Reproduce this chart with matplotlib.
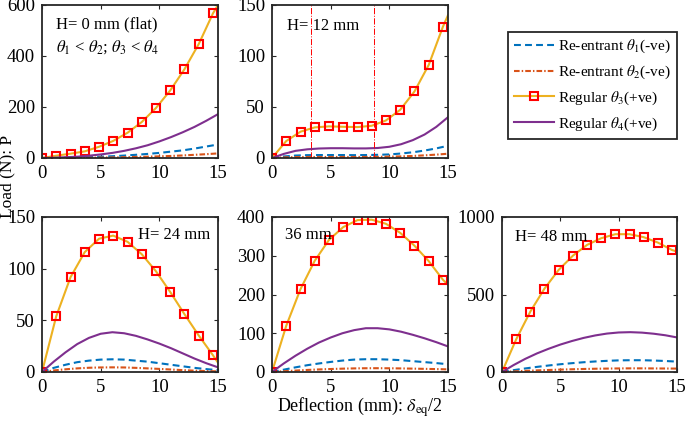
import numpy as np
import matplotlib
matplotlib.use("Agg")
import matplotlib.pyplot as plt

plt.rcParams['font.family'] = ['Liberation Serif', 'DejaVu Serif']
plt.rcParams['mathtext.fontset'] = 'stix'
plt.rcParams['font.size'] = 11

# colours (MATLAB defaults)
C_BLUE = '#0072BD'
C_ORANGE = '#D95319'
C_YELLOW = '#EDB120'
C_PURPLE = '#7E2F8E'

# x positions
x_line = [0, 1, 2, 3, 4, 5, 6, 7, 8, 9, 10, 11, 12, 13, 14, 15]
x_mark = [0, 1.21, 2.43, 3.64, 4.86, 6.07, 7.29, 8.5, 9.71, 10.93, 12.14, 13.36, 14.57]

# H = 0 mm (flat)
h0_reg3 = [0, 9, 17, 26, 44, 67, 99, 141, 196, 265, 348, 447, 567]
h0_reg3_end = 600
h0_reg4 = [0, 1, 3, 5, 9, 14, 20, 28, 38, 50, 65, 82, 101, 122, 146, 172]
h0_re1 = [0, 0.3, 1, 2, 3, 5, 7, 9.5, 12.5, 16, 20, 25, 30, 37, 45, 53]
h0_re2 = [0, 0.1, 0.3, 0.6, 1, 1.6, 2.3, 3.1, 4, 5.2, 6.5, 8, 10, 12.5, 15, 18]

# H = 12 mm
h12_reg3 = [0, 16.6, 25.8, 30, 31, 30.6, 30.3, 31.6, 36.8, 47.3, 65.2, 91.3, 128.8]
h12_reg3_end = 140
h12_reg4 = [0, 4, 7, 8.5, 9.3, 9.6, 9.6, 9.4, 9.4, 9.8, 11, 13.5, 17.5, 23, 30.5, 40]
h12_re1 = [0, 1.5, 2.4, 2.8, 2.9, 2.9, 2.9, 2.8, 2.9, 3.1, 3.5, 4.4, 5.6, 7.3, 9.4, 12]
h12_re2 = [0, 0.6, 0.9, 1, 1, 1, 1, 1, 1, 1.1, 1.3, 1.6, 2, 2.6, 3.3, 4.2]
h12_vlines = [3.3, 8.7]

# H = 24 mm
h24_reg3 = [0, 53.8, 91.7, 116, 129, 132, 126, 114, 97.5, 77.4, 56, 35.3, 16.2]
h24_reg3_end = 9
h24_reg4 = [0, 10, 19, 27, 33, 37, 38.5, 37.5, 35, 31.5, 27.5, 23, 18, 13, 8.5, 4.5]
h24_re1 = [0, 4, 7, 9.5, 11, 12, 12.3, 12, 11, 10, 8.5, 7, 5.5, 4, 2.8, 1.8]
h24_re2 = [0, 1.5, 2.6, 3.5, 4.1, 4.4, 4.5, 4.4, 4, 3.5, 3, 2.4, 1.8, 1.3, 0.9, 0.6]

# H = 36 mm
h36_reg3 = [0, 119, 214, 287, 341, 374, 392, 393, 382.5, 359, 326, 286, 238]
h36_reg3_end = 225
h36_reg4 = [0, 22, 42, 60, 76, 89, 100, 108, 113, 113, 110, 104, 96, 87, 77, 66]
h36_re1 = [0, 6, 12, 17.5, 22, 26, 29.5, 32, 33, 33, 32, 30.5, 28, 25.5, 23, 20]
h36_re2 = [0, 2, 3.7, 5.3, 6.6, 7.7, 8.6, 9.3, 9.7, 9.8, 9.6, 9.2, 8.7, 8.1, 7.5, 6.8]

# H = 48 mm
h48_reg3 = [0, 210, 390, 538, 659, 750, 820, 863, 889, 889, 870, 835, 787]
h48_reg3_end = 777
h48_reg4 = [0, 45, 85, 120, 150, 177, 200, 220, 236, 248, 255, 257, 254, 247, 237, 223]
h48_re1 = [0, 12, 23, 33, 42, 50, 57, 63, 68, 72, 75, 76, 76, 74, 71, 67]
h48_re2 = [0, 4, 7.5, 10.5, 13, 15.5, 17.5, 19.5, 21, 22, 23, 23.5, 23.5, 23, 22.5, 22]

panels = [
    ("H= 0 mm (flat)", h0_reg3, h0_reg3_end, h0_reg4, h0_re1, h0_re2, [0, 600], [0, 200, 400, 600]),
    ("H= 12 mm", h12_reg3, h12_reg3_end, h12_reg4, h12_re1, h12_re2, [0, 150], [0, 50, 100, 150]),
    ("H= 24 mm", h24_reg3, h24_reg3_end, h24_reg4, h24_re1, h24_re2, [0, 150], [0, 50, 100, 150]),
    ("36 mm", h36_reg3, h36_reg3_end, h36_reg4, h36_re1, h36_re2, [0, 400], [0, 100, 200, 300, 400]),
    ("H= 48 mm", h48_reg3, h48_reg3_end, h48_reg4, h48_re1, h48_re2, [0, 1000], [0, 500, 1000]),
]

W, H = 685, 421
fig = plt.figure(figsize=(W / 100, H / 100), dpi=100)

# axes boxes in pixels: left, top, right, bottom
boxes = [(42, 5, 218, 158), (272, 5, 448, 158),
         (42, 217, 218, 372), (272, 217, 448, 372), (502, 217, 677, 372)]
text_pos = [(1.2, 0.87), (1.3, 0.863), (8.2, 0.884), (1.1, 0.884), (1.1, 0.87)]

handles = None
for (title, reg3, reg3_end, reg4, re1, re2, ylim, yticks), box, tp in zip(panels, boxes, text_pos):
    l, t, r, b = box
    ax = fig.add_axes([l / W, 1 - b / H, (r - l) / W, (b - t) / H])
    h1, = ax.plot(x_line, re1, '--', color=C_BLUE, lw=1.5, dashes=(3.3, 2))
    h2, = ax.plot(x_line, re2, '-.', color=C_ORANGE, lw=1.5, dashes=(2.7, 1, 0.7, 1))
    ax.plot(x_mark + [15], reg3 + [reg3_end], '-', color=C_YELLOW, lw=1.5)
    ax.plot(x_mark, reg3, 's', mfc='none', mec='r', ms=5.5, mew=1.5)
    h4, = ax.plot(x_line, reg4, '-', color=C_PURPLE, lw=1.5)
    h3, = ax.plot([], [], '-s', color=C_YELLOW, lw=1.5, mfc='none', mec='r', ms=5.5, mew=1.5)
    handles = [h1, h2, h3, h4]
    if title == "H= 12 mm":
        for xv in h12_vlines:
            ax.axvline(xv, color='r', ls='-.', lw=0.7)
    ax.set_xlim(0, 15)
    ax.set_ylim(*ylim)
    ax.set_xticks([0, 5, 10, 15])
    ax.set_yticks(yticks)
    ax.tick_params(direction='in', top=True, right=True, labelsize=13.5, length=3, color='#262626')
    ax.tick_params(axis='x', pad=5)
    ax.tick_params(axis='y', pad=5)
    for s in ax.spines.values():
        s.set_linewidth(1.3)
        s.set_color('#262626')
    ax.text(tp[0], tp[1] * ylim[1], title, fontsize=12, va='center', ha='left')
    if title.startswith("H= 0"):
        ax.text(1.2, 0.725 * ylim[1], r'$\theta_1$ < $\theta_2$; $\theta_3$ < $\theta_4$',
                fontsize=12, va='center', ha='left')

labels = [r'Re-entrant $\theta_1$(-ve)', r'Re-entrant $\theta_2$(-ve)',
          r'Regular $\theta_3$(+ve)', r'Regular $\theta_4$(+ve)']
leg = fig.legend(handles, labels, loc='upper left', bbox_to_anchor=(508 / W, 1 - 32 / H),
                 borderaxespad=0, fontsize=11, handlelength=2.6, handletextpad=0.3,
                 fancybox=False, edgecolor='#262626', framealpha=1, labelspacing=0.55)
leg.get_frame().set_linewidth(1.3)

fig.text(7 / W, 1 - 176 / H, 'Load (N): P', rotation=90, ha='center', va='center', fontsize=12.5)
fig.text(360 / W, 1 - 407 / H, r'Deflection (mm): $\delta_{\rm eq}$/2', ha='center', va='center', fontsize=13)

fig.savefig('out.png', dpi=100)
